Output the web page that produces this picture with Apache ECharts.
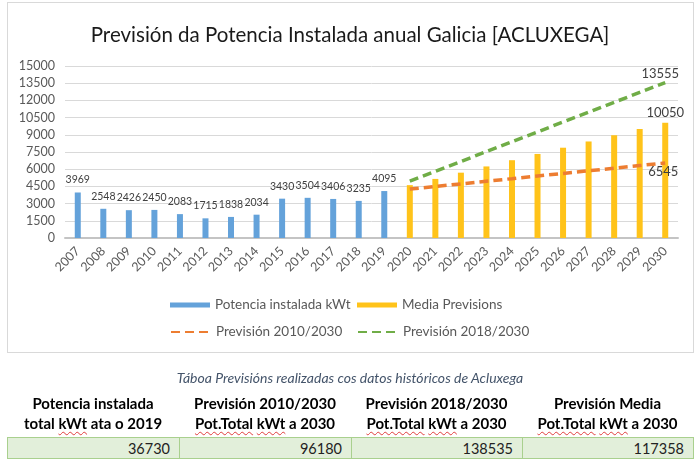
<!DOCTYPE html>
<html>
<head>
<meta charset="utf-8">
<script src="https://cdn.jsdelivr.net/npm/echarts@6/dist/echarts.min.js"></script>
<style>
  html, body { margin: 0; padding: 0; background: #fff; width: 700px; height: 467px; overflow: hidden; font-family: Lato, "Liberation Sans", sans-serif; }
  #frame { position: absolute; left: 7px; top: 2px; width: 685px; height: 349px; border: 1px solid #D9D9D9; box-sizing: content-box; }
  #chart { position: absolute; left: 0; top: 0; width: 700px; height: 467px; }
  #caption { position: absolute; left: 0; top: 369px; width: 700px; text-align: center; font-style: italic; font-size: 14px; color: #44546A; }
  .hdr { position: absolute; top: 393px; text-align: center; font-weight: bold; font-size: 15px; line-height: 20px; color: #000; }
  .val { position: absolute; top: 437px; height: 22px; line-height: 22px; background: #E2EFDA; border: 1px solid #A9D08E; box-sizing: border-box; text-align: right; padding-right: 9px; font-size: 14.5px; color: #222; }
  .sp { text-decoration: underline wavy #E03C3C; text-decoration-thickness: 1px; text-underline-offset: 2px; }
</style>
</head>
<body>
<div id="frame"></div>
<div id="chart"></div>
<div id="caption"></div>
<div id="table"></div>
<script>
// ---- data ----
const years = ['2007','2008','2009','2010','2011','2012','2013','2014','2015','2016','2017','2018','2019','2020','2021','2022','2023','2024','2025','2026','2027','2028','2029','2030'];
const potenciaInstalada = [3969, 2548, 2426, 2450, 2083, 1715, 1838, 2034, 3430, 3504, 3406, 3235, 4095];
const mediaPrevisions = [4610, 5153, 5697, 6241, 6785, 7330, 7874, 8418, 8962, 9506, 10050];
const prevision2010 = [4264, 4492, 4720, 4948, 5176, 5405, 5633, 5861, 6089, 6317, 6545];
const prevision2018 = [4955, 5815, 6675, 7535, 8395, 9255, 10115, 10975, 11835, 12695, 13555];
const seriesNames = ['Potencia instalada kWt', 'Media Previsions', 'Previsión 2010/2030', 'Previsión 2018/2030'];
const titleText = 'Previsión da Potencia Instalada anual Galicia [ACLUXEGA]';
const captionText = 'Táboa Previsións realizadas cos datos históricos de Acluxega';
const tableHeaders = [
  ['Potencia instalada', 'total <span class="sp">kWt</span> ata o 2019'],
  ['Previsión 2010/2030', '<span class="sp">Pot.Total</span> <span class="sp">kWt</span> a 2030'],
  ['Previsión 2018/2030', '<span class="sp">Pot.Total</span> <span class="sp">kWt</span> a 2030'],
  ['Previsión Media', '<span class="sp">Pot.Total</span> <span class="sp">kWt</span> a 2030']
];
const tableValues = [36730, 96180, 138535, 117358];

// ---- table ----
const cols = [[7,172],[179,172],[351,171],[522,171]];
document.getElementById('caption').textContent = captionText;
let html = '';
tableHeaders.forEach((h, i) => {
  html += '<div class="hdr" style="left:' + cols[i][0] + 'px;width:' + cols[i][1] + 'px">' + h[0] + '<br>' + h[1] + '</div>';
  html += '<div class="val" style="left:' + cols[i][0] + 'px;width:' + (cols[i][1] + 1) + 'px">' + tableValues[i] + '</div>';
});
document.getElementById('table').innerHTML = html;

// ---- chart ----
const nHist = potenciaInstalada.length;
const nFut = mediaPrevisions.length;
const blank = n => Array(n).fill('-');
const lastLabel = (arr, label) => arr.map((v, i) => i === arr.length - 1 ? { value: v, label: Object.assign({ show: true }, label) } : v);

const FONT = 'Lato';
const chart = echarts.init(document.getElementById('chart'), null, { renderer: 'canvas' });
const legendBase = {
  selectedMode: false, itemWidth: 40, itemGap: 10, padding: 0,
  textStyle: { color: '#595959', fontSize: 13.5, fontFamily: FONT }
};
chart.setOption({
  animation: false,
  textStyle: { fontFamily: FONT },
  title: {
    text: titleText, left: 'center', top: 20,
    textStyle: { fontSize: 20.5, fontWeight: 'normal', color: '#1a1a1a', fontFamily: FONT }
  },
  grid: { left: 65, right: 22, top: 66, bottom: 229, containLabel: false },
  legend: [
    Object.assign({}, legendBase, { data: [{ name: seriesNames[0], icon: 'rect' }], left: 170, top: 298, itemHeight: 5 }),
    Object.assign({}, legendBase, { data: [{ name: seriesNames[1], icon: 'rect' }], left: 357, top: 298, itemHeight: 5 }),
    Object.assign({}, legendBase, { data: [seriesNames[2]], left: 170, top: 325, itemHeight: 10 }),
    Object.assign({}, legendBase, { data: [seriesNames[3]], left: 357, top: 325, itemHeight: 10 })
  ],
  xAxis: {
    type: 'category', data: years,
    axisTick: { show: false },
    axisLine: { lineStyle: { color: '#C4C4C4', width: 2 } },
    axisLabel: { rotate: 45, fontSize: 12.5, color: '#595959', margin: 11, interval: 0, fontFamily: FONT }
  },
  yAxis: {
    type: 'value', min: 0, max: 15000, interval: 1500,
    axisLine: { show: false }, axisTick: { show: false },
    splitLine: { lineStyle: { color: '#D9D9D9', width: 1 } },
    axisLabel: { fontSize: 12.5, color: '#595959', margin: 10, fontFamily: FONT, formatter: v => String(v) }
  },
  series: [
    {
      name: seriesNames[0], type: 'bar', barWidth: 6, barGap: '-100%',
      data: potenciaInstalada.concat(blank(nFut)),
      itemStyle: { color: '#64A2DA' },
      label: { show: true, position: 'top', distance: 7, fontSize: 10.5, color: '#404040', fontFamily: FONT }
    },
    {
      name: seriesNames[1], type: 'bar', barWidth: 6, barGap: '-100%',
      data: blank(nHist).concat(lastLabel(mediaPrevisions, { position: 'top', distance: 3, fontSize: 13, color: '#404040', fontFamily: FONT })),
      itemStyle: { color: '#FFC31A' }
    },
    {
      name: seriesNames[2], type: 'line', symbol: 'circle', symbolSize: 1, showSymbol: true,
      data: blank(nHist).concat(lastLabel(prevision2010, { position: 'bottom', distance: 2, offset: [-2, 0], fontSize: 13, color: '#404040', fontFamily: FONT })),
      itemStyle: { color: 'rgba(0,0,0,0)' },
      lineStyle: { color: '#ED7D31', width: 3.5, type: [9, 5] },
      z: 3
    },
    {
      name: seriesNames[3], type: 'line', symbol: 'circle', symbolSize: 1, showSymbol: true,
      data: blank(nHist).concat(lastLabel(prevision2018, { position: 'top', distance: 2, offset: [-5, 0], fontSize: 13, color: '#404040', fontFamily: FONT })),
      itemStyle: { color: 'rgba(0,0,0,0)' },
      lineStyle: { color: '#70AD47', width: 3.5, type: [9, 5] },
      z: 3
    }
  ]
});
</script>
</body>
</html>
